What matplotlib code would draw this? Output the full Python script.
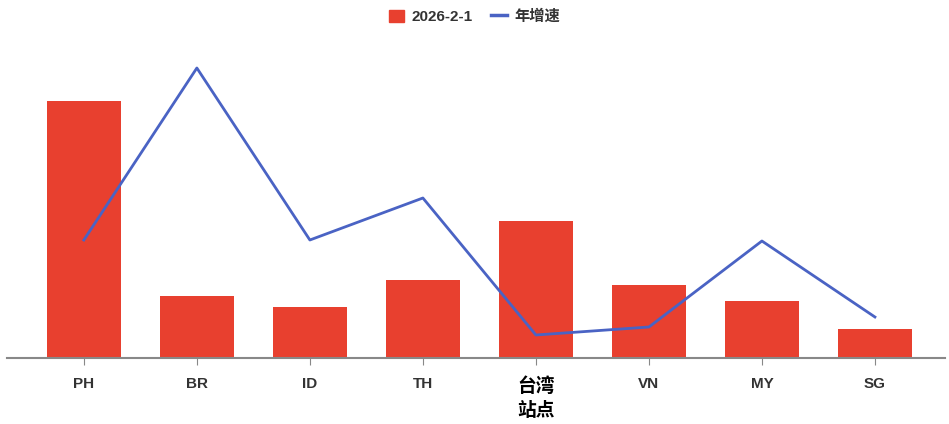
import matplotlib
matplotlib.use("Agg")
import matplotlib.pyplot as plt
from matplotlib.lines import Line2D
from matplotlib.patches import Patch

plt.rcParams['font.family'] = ['Liberation Sans', 'Noto Sans CJK SC', 'DejaVu Sans']

categories = ["PH", "BR", "ID", "TH", "台湾\n站点", "VN", "MY", "SG"]
bar_values = [257, 62, 51, 78, 137, 73, 57, 29]      # 2026-2-1 (relative units)
growth_values = [118, 290, 118, 160, 23, 31, 117, 41]  # 年增速 (relative units)

RED = "#e8402f"
BLUE = "#4a63c4"

fig = plt.figure(figsize=(9.49, 4.24), dpi=100)
ax = fig.add_axes([7/949, 1 - 358/424, 938/949, 318/424])
x = list(range(len(categories)))
ax.bar(x, bar_values, width=0.65, color=RED, zorder=2)
ax2 = ax.twinx()
ax2.plot(x, growth_values, color=BLUE, linewidth=2, zorder=3)

for a in (ax, ax2):
    a.set_ylim(0, 318)
    a.set_xlim(-0.68, 7.62)
    for s in a.spines.values():
        s.set_visible(False)
    a.set_yticks([])
ax.spines['bottom'].set_visible(True)
ax.spines['bottom'].set_color("#888888")
ax.spines['bottom'].set_linewidth(1.5)

ax.set_xticks(x)
ax.set_xticklabels(categories, fontsize=11, fontweight='bold', color="#333333")
ax.tick_params(axis='x', length=5, color="#888888", pad=9)
for lbl in ax.get_xticklabels():
    if "台湾" in lbl.get_text():
        lbl.set_color("#000000")
        lbl.set_fontsize(13.5)
        lbl.set_linespacing(1.45)

handles = [Patch(facecolor=RED, edgecolor=RED),
           Line2D([0], [0], color=BLUE, linewidth=2.5)]
fig.legend(handles, ["2026-2-1", "年增速"], loc='upper center',
           bbox_to_anchor=(0.5, 1.01), ncol=2, frameon=False,
           prop={'weight': 'bold', 'size': 11}, handlelength=1.0,
           handleheight=0.8, columnspacing=1.2, handletextpad=0.5,
           labelcolor="#333333")

fig.savefig("out.png", dpi=100)
